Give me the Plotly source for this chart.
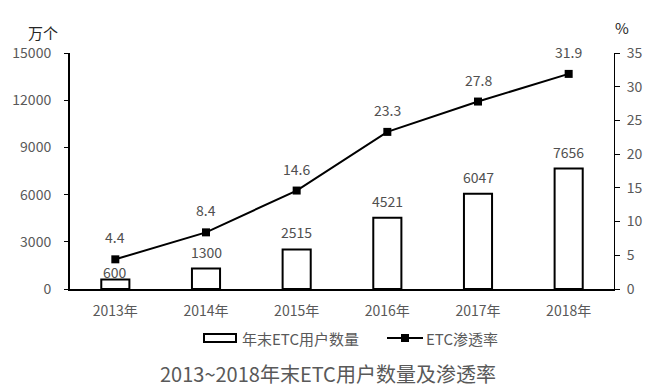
import plotly.graph_objects as go

years = ["2013年", "2014年", "2015年", "2016年", "2017年", "2018年"]
users = [600, 1300, 2515, 4521, 6047, 7656]
rate = [4.4, 8.4, 14.6, 23.3, 27.8, 31.9]
left_ticks = [0, 3000, 6000, 9000, 12000, 15000]
right_ticks = [0, 5, 10, 15, 20, 25, 30, 35]

# label offsets (pixels above the bar top); first label sits lower to clear the line marker
bar_label_shift = [8, 17, 17, 17, 17, 17]

font_fam = "Noto Sans CJK SC, Noto Sans, sans-serif"
gray = "#595959"
dark = "#505050"

# plot area in pixels
L, R, T, B = 70, 614, 53, 289
W, H = R - L, B - T
def px(x):
    return (x - L) / W
def py(y):
    return (B - y) / H

fig = go.Figure()
fig.add_trace(go.Bar(
    x=years, y=users, name="年末ETC用户数量",
    marker=dict(color="white", line=dict(color="black", width=2)),
    width=0.31, hoverinfo="skip",
))
fig.add_trace(go.Scatter(
    x=years, y=rate, name="ETC渗透率", yaxis="y2",
    mode="lines+markers",
    line=dict(color="black", width=2),
    marker=dict(symbol="square", size=8, color="black"),
    cliponaxis=False, hoverinfo="skip",
))

annotations = []
for yr, u, s in zip(years, users, bar_label_shift):
    annotations.append(dict(x=yr, y=u, xref="x", yref="y", text=str(u),
                            showarrow=False, yshift=s,
                            font=dict(size=14, color=dark)))
for yr, r in zip(years, rate):
    annotations.append(dict(x=yr, y=r, xref="x", yref="y2", text=str(r),
                            showarrow=False, yshift=22,
                            font=dict(size=14, color=dark)))

annotations += [
    dict(text="万个", xref="paper", yref="paper", x=px(43), y=py(32), showarrow=False,
         font=dict(size=15, color="#262626"), xanchor="center", yanchor="middle"),
    dict(text="%", xref="paper", yref="paper", x=px(622), y=py(27), showarrow=False,
         font=dict(size=15, color="#262626"), xanchor="center", yanchor="middle"),
    dict(text="年末ETC用户数量", xref="paper", yref="paper", x=px(240), y=py(338),
         xanchor="left", yanchor="middle", showarrow=False,
         font=dict(size=15, color=gray)),
    dict(text="ETC渗透率", xref="paper", yref="paper", x=px(424), y=py(338),
         xanchor="left", yanchor="middle", showarrow=False,
         font=dict(size=15, color=gray)),
    dict(text="2013~2018年末ETC用户数量及渗透率", xref="paper", yref="paper",
         x=px(328), y=py(373), xanchor="center", yanchor="middle", showarrow=False,
         font=dict(size=20, color=gray)),
]

shapes = [
    dict(type="rect", xref="paper", yref="paper", x0=px(204), x1=px(236),
         y0=py(342), y1=py(334), line=dict(color="black", width=2), fillcolor="white"),
    dict(type="line", xref="paper", yref="paper", x0=px(387), x1=px(423),
         y0=py(338), y1=py(338), line=dict(color="black", width=2)),
    dict(type="rect", xref="paper", yref="paper", x0=px(401), x1=px(409),
         y0=py(342), y1=py(334), line=dict(color="black", width=0), fillcolor="black"),
]

fig.update_layout(
    width=652, height=388,
    margin=dict(l=L, r=652 - R, t=T, b=388 - B, autoexpand=False),
    paper_bgcolor="white", plot_bgcolor="white",
    font=dict(family=font_fam, size=14, color=gray),
    showlegend=False,
    hovermode=False,
    xaxis=dict(showline=True, linecolor="black", linewidth=2, ticks="",
               tickfont=dict(size=14, color=gray), showgrid=False,
               ticklabelstandoff=8),
    yaxis=dict(range=[0, 15000], tickvals=left_ticks, ticktext=[str(v) for v in left_ticks],
               showline=True, linecolor="black", linewidth=2, ticks="outside",
               ticklen=4, tickcolor="black", showgrid=False, zeroline=False,
               tickfont=dict(size=14, color=gray), ticklabelstandoff=10),
    yaxis2=dict(range=[0, 35], tickvals=right_ticks, ticktext=[str(v) for v in right_ticks],
                overlaying="y", side="right",
                showline=True, linecolor="black", linewidth=1, ticks="outside",
                ticklen=5, tickcolor="black", showgrid=False, zeroline=False,
                tickfont=dict(size=14, color=gray), ticklabelstandoff=4),
    annotations=annotations,
    shapes=shapes,
)

fig.write_html("out.html", config={"displayModeBar": False, "staticPlot": True})

with open("out.html", "r", encoding="utf-8") as f:
    html = f.read()
html = html.replace("<head>", "<head><style>html,body{margin:0;padding:0;overflow:hidden;}</style>", 1)
with open("out.html", "w", encoding="utf-8") as f:
    f.write(html)
